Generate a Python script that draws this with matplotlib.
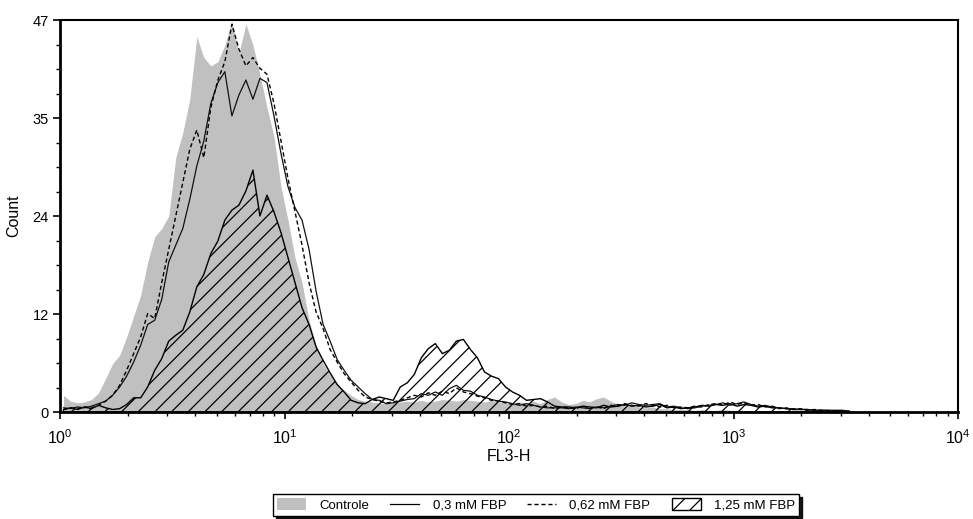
import numpy as np
import matplotlib
matplotlib.use("Agg")
import matplotlib.pyplot as plt
from matplotlib.patches import Patch
from matplotlib.lines import Line2D

plt.rcParams['font.family'] = ['Liberation Sans', 'DejaVu Sans']
plt.rcParams['mathtext.fontset'] = 'custom'
plt.rcParams['mathtext.rm'] = 'Liberation Sans'
plt.rcParams['mathtext.it'] = 'Liberation Sans'
plt.rcParams['hatch.linewidth'] = 0.9

# Histogram channels: 32 channels per decade, starting at 10^0
channels_per_decade = 32

controle = [2.0, 1.3, 1.1, 1.2, 1.5, 2.3, 4.0, 5.8, 6.8, 9.0,
            11.5, 14.0, 18.0, 21.0, 22.0, 23.5, 30.5, 33.5, 37.5, 45.0,
            42.5, 41.5, 42.0, 44.0, 46.8, 43.0, 46.5, 44.0, 40.5, 36.5,
            33.0, 27.0, 23.0, 18.5, 15.5, 11.0, 8.0, 5.8, 4.5, 3.4,
            2.6, 2.0, 1.5, 1.3, 1.2, 1.1, 1.0, 1.1, 1.2, 1.3,
            1.2, 1.4, 1.2, 1.3, 1.5, 1.4, 1.3, 1.5, 1.4, 1.3,
            1.2, 1.4, 1.2, 1.1, 1.0, 1.2, 1.1, 1.3, 1.0, 1.5,
            1.8, 1.2, 0.9, 1.0, 1.4, 1.2, 1.6, 1.8, 1.3, 0.9,
            0.7, 0.8, 0.6, 0.5, 0.6, 0.4, 0.4, 0.3, 0.3, 0.3,
            0.2, 0.3, 0.2, 0.2, 0.3, 0.2, 0.2, 0.2, 0.1, 0.1,
            0.1, 0.1, 0, 0, 0, 0, 0, 0, 0, 0, 0, 0, 0]

fbp_03 = [0.5, 0.4, 0.6, 0.5, 0.7, 1.0, 1.3, 2.0, 3.0, 4.3,
          6.0, 8.0, 10.5, 11.0, 13.5, 18.0, 20.0, 22.0, 25.5, 29.5,
          32.5, 37.0, 39.5, 40.8, 35.5, 38.0, 39.8, 37.5, 40.0, 39.5,
          35.5, 31.0, 27.0, 24.5, 23.0, 19.5, 14.5, 10.5, 8.5, 6.3,
          5.0, 3.8, 3.0, 2.2, 1.5, 1.4, 1.0, 1.1, 1.3, 1.5,
          1.6, 2.2, 2.0, 2.4, 2.0, 2.8, 3.2, 2.6, 2.5, 2.0,
          1.8, 1.5, 1.3, 1.2, 1.0, 0.8, 1.0, 0.8, 0.6, 0.5,
          0.5, 0.5, 0.4, 0.6, 0.5, 0.4, 0.6, 0.5, 0.7, 0.9,
          0.8, 1.1, 0.9, 0.8, 0.9, 1.0, 0.6, 0.7, 0.5, 0.4,
          0.5, 0.7, 0.8, 0.9, 1.1, 0.8, 1.0, 1.2, 0.9, 0.7,
          0.8, 0.6, 0.5, 0.4, 0.4, 0.3, 0.3, 0.2, 0.2, 0.2, 0.1, 0.1, 0.1]

fbp_062 = [0.3, 0.5, 0.4, 0.6, 0.5, 0.8, 1.3, 2.0, 3.2, 5.0,
           7.0, 9.0, 11.8, 11.2, 15.5, 19.5, 23.5, 27.5, 31.5, 33.8,
           30.5, 36.5, 39.8, 42.0, 46.5, 43.5, 41.5, 42.5, 41.2, 40.5,
           37.0, 32.5, 28.0, 24.0, 20.0, 15.5, 12.0, 10.0, 7.5, 6.0,
           4.6, 3.6, 2.6, 1.8, 1.5, 1.3, 1.1, 1.2, 1.4, 1.7,
           2.0, 1.8, 2.3, 2.0, 2.5, 2.2, 2.9, 2.4, 2.2, 1.9,
           1.7, 1.4, 1.3, 1.1, 0.9, 1.0, 0.7, 0.8, 0.6, 0.7,
           0.4, 0.6, 0.5, 0.4, 0.7, 0.5, 0.6, 0.4, 0.8, 0.7,
           1.0, 0.8, 0.7, 1.0, 0.8, 0.6, 0.8, 0.5, 0.6, 0.5,
           0.7, 0.6, 0.9, 1.0, 0.8, 1.2, 0.9, 1.1, 0.8, 0.9,
           0.6, 0.7, 0.4, 0.5, 0.3, 0.4, 0.2, 0.3, 0.2, 0.1, 0.1, 0.1, 0]

fbp_125 = [0.3, 0.5, 0.3, 0.6, 0.4, 0.8, 0.5, 0.3, 0.4, 0.9,
           1.7, 1.7, 3.0, 5.0, 6.4, 8.5, 9.2, 9.8, 12.0, 15.0,
           16.5, 19.0, 20.5, 23.0, 24.2, 24.8, 26.5, 29.0, 23.5, 26.0,
           24.0, 21.5, 18.5, 15.5, 12.5, 10.5, 7.8, 6.2, 4.7, 3.3,
           2.4, 1.4, 1.1, 1.0, 1.5, 1.8, 1.6, 1.4, 3.0, 3.5,
           4.5, 6.5, 7.6, 8.2, 7.0, 7.4, 8.5, 8.7, 7.5, 6.5,
           4.8, 4.3, 4.0, 3.0, 2.4, 2.0, 1.4, 1.5, 1.6, 1.2,
           0.7, 0.6, 0.6, 0.5, 0.7, 0.6, 0.5, 0.8, 0.6, 0.7,
           0.9, 0.7, 0.8, 0.6, 0.7, 0.9, 0.5, 0.6, 0.4, 0.5,
           0.6, 0.8, 0.7, 0.9, 0.8, 1.0, 0.7, 0.9, 0.8, 0.6,
           0.7, 0.5, 0.5, 0.4, 0.3, 0.3, 0.3, 0.2, 0.2, 0.2, 0.2, 0.2, 0.1]

labels = ["Controle", "0,3 mM FBP", "0,62 mM FBP", "1,25 mM FBP"]
y_max = 47
y_tick_labels = ["0", "12", "24", "35", "47"]
x_tick_labels = [r"$10^{0}$", r"$10^{1}$", r"$10^{2}$", r"$10^{3}$", r"$10^{4}$"]

n = len(controle)
centers = 10 ** ((np.arange(n) + 0.5) / channels_per_decade)

fig = plt.figure(figsize=(9.73, 5.19), dpi=100)
ax = fig.add_axes([60/973, 1-412/519, 898/973, 392/519])

gray = "#c0c0c0"
ax.fill_between(centers, controle, 0, color=gray, linewidth=0, zorder=1)
ax.fill_between(centers, fbp_125, 0, facecolor="none", edgecolor="black",
                hatch="//", linewidth=1.0, zorder=2)
ax.plot(centers, fbp_03, color="#111111", linewidth=0.9, zorder=3)
ax.plot(centers, fbp_062, color="black", linewidth=1.0, linestyle=(0, (3, 2)), zorder=3)

ax.set_xscale("log")
ax.set_xlim(1, 1e4)
ax.set_ylim(0, y_max)

ax.set_xticks([1, 10, 100, 1000, 10000])
ax.set_xticklabels(x_tick_labels, fontsize=11.5)
ax.xaxis.set_minor_locator(matplotlib.ticker.LogLocator(base=10, subs=np.arange(2, 10)))
ax.xaxis.set_minor_formatter(matplotlib.ticker.NullFormatter())

ax.set_yticks(np.linspace(0, y_max, 5))
ax.set_yticklabels(y_tick_labels, fontsize=10.5)
ax.set_yticks(np.linspace(0, y_max, 17), minor=True)

ax.tick_params(which="major", direction="out", length=5, width=1.2, pad=3)
ax.tick_params(which="minor", direction="out", length=3, width=1.0)
ax.tick_params(axis="x", which="major", pad=7)

for s in ["left", "bottom"]:
    ax.spines[s].set_linewidth(2.0)
for s in ["top", "right"]:
    ax.spines[s].set_linewidth(1.5)

ax.set_xlabel("FL3-H", fontsize=11.5, labelpad=1)
ax.set_ylabel("Count", fontsize=11.5, labelpad=8)

handles = [
    Patch(facecolor=gray, edgecolor="none"),
    Line2D([0], [0], color="black", linewidth=0.9),
    Line2D([0], [0], color="black", linewidth=1.0, linestyle=(0, (3, 2))),
    Patch(facecolor="white", edgecolor="black", hatch="//"),
]
leg = fig.legend(handles, labels, loc="center", bbox_to_anchor=(536/973, 1-505/519),
                 ncol=4, fontsize=9.5, frameon=True, fancybox=False,
                 shadow={"color": "black", "alpha": 0.9},
                 handlelength=2.2, handleheight=1.0, columnspacing=1.6,
                 handletextpad=1.0, borderpad=0.3, borderaxespad=0)
leg.get_frame().set_edgecolor("black")
leg.get_frame().set_linewidth(1.0)

fig.savefig("out.png", dpi=100)
